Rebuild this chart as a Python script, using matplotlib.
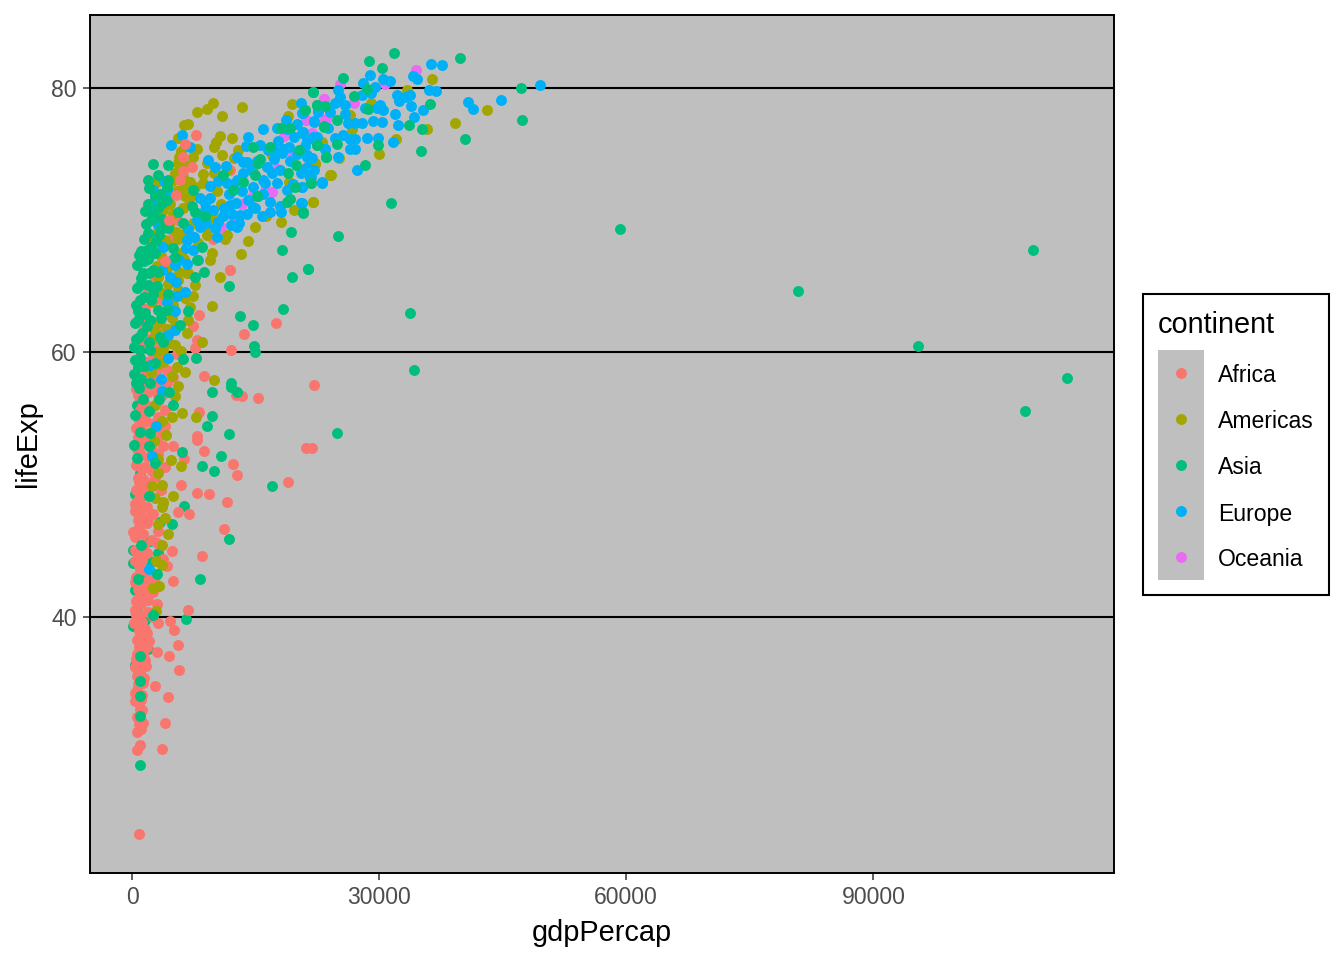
import matplotlib
matplotlib.use('Agg')
import matplotlib.pyplot as plt
from matplotlib.patches import Rectangle

# values: (gdpPercap, lifeExp)
africa = [(11900,66.2),(8090,62.8),(7360,62.0),(17440,62.2),(13560,61.4),(7850,60.9),(7650,60.3),(11980,60.2),
          (850,62.4),(890,60.4),(3600,64.0),(1580,63.3),(8740,58.2),(22100,57.5),(12590,56.8),(13360,56.7),
          (15300,56.55),(8130,55.5),(7850,53.7),(7850,53.4),(4940,52.95),(8740,52.55),(6280,51.95),(21125,52.8),
          (21850,52.8),(12260,51.55),(12710,50.7),(18940,50.2),(5910,49.95),(7850,49.4),(9350,49.3),(11490,48.7),
          (970,57.9),(1580,57.15),(770,56.8),(2790,57.4),(4210,57.65),(5020,58.15),(970,55.65),(3200,56.3),
          (4000,55.65),(970,54.5),(3200,55.15),(4000,54.4),(770,53.6),(3000,53.4),(3800,52.9),(970,52.4),
          (1580,51.35),(4000,51.35),(770,50.5),(2000,50.1),(3480,49.6),(770,48.85),(1780,48.3),(2790,50.6),
          (2390,52.6),(1380,55.15),(3400,59.9),(4200,58.65),(3000,58.65),(970,58.65),(5420,59.9),
          (5540,47.96),(6880,47.8),(11170,46.65),(3200,46.5),(4820,45.0),(8500,44.6),(4210,43.85),(4940,42.7),
          (6760,40.5),(4610,39.65),(3200,39.5),(5100,39.0),(5540,37.9),(2995,37.3),(4450,37.0),(5665,36.0),
          (2790,34.8),(4330,33.9),(4005,32.0),(970,30.3),(570,29.9),(3600,30.0),(850,23.6),(570,31.3),(1050,31.5),
          (1170,32.95),(570,32.45),(365,33.6),(1170,34.1),(570,34.5),(1380,35.0),(570,35.5),(1580,36.7),(365,36.2),
          (570,37.2),(1780,38.75),(570,38.25),(970,39.25),(365,40.5),(2995,41.0),(1980,41.3),(770,41.4),(365,42.65),
          (1580,42.0),(2590,41.9),(970,43.55),(365,44.2),(3800,44.4),(1780,44.8),(365,45.05),(2390,45.8),(1380,46.3),
          (160,46.45),(1780,47.1),(770,47.3),(2590,47.8),(365,48.5),(1380,48.3),(970,40.15),(2590,40.0),(1580,39.1),
          (970,38.5),(1780,37.75),(770,36.5),(1980,42.8),(3000,45.6),(1200,49.8),(1200,51.2),(1000,53.0),(1400,54.0),
          (1700,56.0),(1100,59.2),(5020,68.75),(3200,67.75),(5420,70.0),(3320,69.8),(11900,73.8),(9875,68.6),
          (300,39.5),(520,41.2),(700,42.1),(450,43.0),(900,43.9),(1250,44.3),(640,44.9),(1500,45.4),(380,46.0),
          (820,46.8),(1150,47.6),(1900,47.5),(420,48.0),(1000,48.9),(1600,49.3),(2200,49.1),(520,49.6),(870,50.2),
          (1300,50.4),(2400,51.0),(430,51.5),(760,52.0),(1900,52.1),(3100,52.3),(620,52.7),(1250,53.3),(2100,53.2),
          (450,54.3),(880,54.9),(1700,54.8),(2600,54.6),(3500,54.0),(700,55.2),(1250,55.9),(2400,55.9),(3000,56.9),
          (480,57.2),(1000,57.5),(2000,57.0),(3700,56.8),(650,58.1),(1500,58.2),(2500,58.0),(3400,57.3),(800,59.6),
          (1800,59.3),(2600,59.6),(1200,60.6),(2200,61.0),(3100,60.6),(1400,61.8),(2700,62.3),(3500,62.0),(900,63.6),
          (2000,64.6),(2700,65.3),(3300,66.0),(1500,38.0),(800,38.9),(1250,39.6),(2000,40.4),(450,40.1),(1100,41.0),
          (1600,41.6),(2300,43.3),(1800,43.5),(1200,42.5),(2800,43.0),(900,37.7),(1300,37.2),(480,36.8),(1000,35.8),
          (1500,35.4),(700,34.9),(1100,33.7),(400,34.2),(1300,32.0),(800,31.9),(700,36.0),(1700,36.3),(2100,38.2),(1000,33.0)]
africa_front = [(7770,76.45),(6435,75.8),(6150,74.8),(7285,74.0),(6150,73.7),(5825,73.05),(5340,71.9),(4530,70.0),
                (4005,66.9),(11900,66.2)]
americas = [(9790,78.84),(9065,78.39),(7850,78.2),(13315,78.59),(10927,77.88),(6760,77.28),(6350,77.2),(5585,76.2),
            (10680,76.37),(10200,75.94),(9950,75.5),(12140,76.24),(7850,75.36),(12870,75.34),(10890,74.93),(12380,74.68),
            (7450,74.8),(5750,74.8),(5585,74.35),(9065,74.3),(9955,73.55),(11500,73.8),(5220,73.55),(3000,72.9),
            (7040,72.9),(8660,72.8),(6230,72.5),(10280,72.2),(7450,71.9),(6430,71.8),(10760,71.2),(9950,70.2),
            (7450,69.8),(8900,69.5),(9150,68.9),(5625,68.6),(4000,68.5),(11490,68.9),(11250,68.55),(14080,68.45),
            (8050,68.3),(9670,67.5),(9470,67.0),(13230,67.45),(6350,67.05),(5750,66.1),(6720,66.0),(10680,65.7),
            (2390,68.5),(4200,68.25),(19385,78.8),(18940,77.9),(14730,74.05),(19060,72.9),(19670,70.8),(21935,71.4),
            (16270,70.3),(18090,69.9),(14890,69.5),(24000,73.4),(22220,74.3),(16960,74.9),
            (9670,63.5),(7650,65.1),(7450,64.3),(5630,65.5),(6840,66.0),(6430,64.1),(7040,63.4),(6840,62.45),
            (4820,62.6),(6640,61.45),(4210,61.8),(8460,60.8),(5910,60.1),(5220,60.55),(3200,59.1),(6430,58.5),
            (5420,58.9),(9955,57.9),(4900,58.2),(5550,57.45),(5220,56.7),(6030,55.45),(7770,55.15),(4820,55.15),
            (4130,53.75),(4695,51.85),(5950,51.4),(3200,50.85),(3600,49.95),(5020,49.1),(3720,48.7),
            (3720,48.6),(3600,48.3),(4370,46.3),(3600,45.44),(2910,44.2),(3600,43.9),(3280,42.3),(2590,42.2),(2870,40.45),
            (36420,80.68),(33345,79.85),(29015,78.84),(26465,77.96),(26668,76.87),(35775,76.87),(32010,76.17),(29985,75.0),
            (25130,74.73),(24120,73.45),(21930,71.38),(43060,78.3),(39210,77.38),(23025,75.94),(22215,74.25),(21000,78.3),
            (3000,66.5),(4400,65.2),(3600,63.0),(2800,61.6),(3800,60.2),(2400,63.8),(5000,63.6),(2900,70.4),(4600,71.2),
            (2300,58.5),(3000,60.0),(3800,59.3),(2600,61.0),(4500,60.7),(3300,62.3),(5200,62.0),(3700,64.5),(4600,64.0),
            (3100,65.7),(5600,64.7),(4300,66.4),(3500,67.3),(4800,66.9),(5900,67.5),(3000,69.0),(4500,69.6),(5400,69.1),
            (6400,69.0),(3800,70.8),(5000,70.5),(6200,70.9),(4400,71.8),(5500,72.2),(4800,73.0),(6200,73.3),(3700,72.0),
            (6900,71.2),(8000,70.4),(7600,72.5),(8600,73.5),(6500,74.2),(5900,75.2),(2800,56.0),(3600,54.8),(2700,53.3),
            (3200,51.9),(2400,49.9),(2800,49.0),(4000,47.5),(3200,47.0)]
asia_back = [(6310,48.4),(3400,47.2),(4860,47.0),(11780,45.9),(2190,45.7),(8260,42.85),(1580,43.2),(365,42.0),
             (6560,39.85),(570,40.45),(1580,39.75),(160,39.3),(1980,37.6),(365,36.35),(3200,44.8),(160,45.05),(160,44.05),
             (2190,44.2),(570,56.0),(365,49.3),(970,50.85),(490,53.1),(770,47.85)]
asia_front = [(21935,79.7),(22420,78.7),(21000,78.3),(18050,77.0),(19180,77.0),(23300,77.1),(22420,75.7),(20270,75.3),
              (23500,74.8),(16750,75.5),(14650,75.5),(15340,74.3),(14930,73.4),(19870,74.2),(18980,73.6),(19790,72.5),
              (21690,72.8),(19180,71.6),(18860,71.4),(20720,70.6),(19260,69.1),(18170,67.75),(21330,66.3),(19390,65.7),
              (2510,74.25),(4330,74.2),(1900,73.05),(3110,73.4),(4410,73.05),(3400,72.0),(4210,71.5),(1580,70.7),(2590,70.4),
              (3200,70.9),(5625,70.65),(7240,71.1),(7650,70.6),(6230,69.8),(8860,70.3),(1980,69.0),(3480,69.3),(4410,69.4),
              (1090,67.7),(1780,67.75),(1980,67.1),(2790,67.5),(5020,67.9),(5220,67.25),(8460,68.0),(7850,67.0),(1380,66.0),
              (3200,66.1),(8740,66.1),(7650,65.7),(11090,73.4),(12300,72.3),(15130,71.8),(15540,74.6),(13520,72.9),(7450,72.3),
              (11780,65.05),(18290,63.3),(13110,62.75),(14650,62.07),(14810,60.5),(14930,60.0),(7770,59.6),(6190,59.5),
              (9670,57.0),(12020,57.65),(12020,57.35),(12710,57.0),(4940,56.0),(9710,55.2),(9065,54.45),(11780,53.85),
              (10800,52.15),(8500,51.4),(9950,51.0),(6070,52.5),(16960,49.9),(2060,49.1),(2100,55.6),(365,59.4),(970,59.55),
              (770,58.9),(240,58.4),(2190,57.7),(3320,56.5),(4530,57.0),(2060,52.9),(2790,51.65),(2190,53.9),(970,65.1),
              (1980,65.1),(2590,64.45),(970,64.0),(4410,64.45),(770,63.1),(1580,63.0),(3200,63.2),(2190,62.45),(1170,61.45),
              (5825,62.05),(6840,63.1),(2100,60.8),(3400,61.2),(2190,60.2),(3800,60.8),(770,62.45),(4210,63.2),
              (1050,45.4),(3000,43.2),(770,42.85),(2510,40.1),(970,37.0),(970,35.15),(970,34.0),(970,32.5),(970,28.8),
              (31800,82.65),(28770,82.04),(30350,81.5),(39820,82.27),(25615,80.76),(21930,79.7),(26990,79.42),(28490,79.9),
              (47185,80.0),(47350,77.6),(36180,78.8),(28690,78.4),(22420,78.7),(23430,78.66),(40430,76.14),(35085,75.2),
              (33630,77.2),(35170,76.9),(29865,75.7),(24850,75.8),(24850,77.6),(23310,77.07),(22420,75.7),(23510,74.76),
              (28290,74.2),(21690,72.84),(31445,71.3),(20760,70.57),(25010,68.8),(21325,66.3),
              (109380,67.75),(113520,58.06),(108380,55.56),(95458,60.47),(80895,64.62),(59265,69.34),(34234,58.67),
              (33757,62.99),(24890,53.9),
              (300,60.4),(500,61.0),(800,61.2),(400,62.2),(1300,62.9),(500,63.6),(1500,64.2),(650,64.9),(1100,65.6),
              (2100,66.0),(600,66.6),(1400,66.9),(2500,66.2),(800,67.4),(2300,68.0),(1400,68.6),(2900,68.4),(1700,69.7),
              (3300,68.9),(2300,70.0),(3700,70.1),(2000,71.2),(2800,71.8),(3600,71.3),(2100,72.4),(4300,72.5),(1000,60.2),
              (1500,59.0),(2800,59.2),(1100,58.0),(2300,64.0),(3000,65.0),(3500,62.6),(1800,62.0),(500,57.7),(800,57.3),
              (1300,56.5),(400,55.3),(1000,54.0),(600,52.0),(300,53.0)]
europe = [(4735,75.7),(6030,76.45),(7040,75.5),(9270,74.55),(10080,74.05),(11410,74.1),(13440,74.4),(14000,74.4),
          (14080,76.3),(15945,76.9),(15540,75.7),(17560,77.0),(17690,76.0),(18700,77.6),(20480,78.85),(20640,78.1),
          (20000,77.3),(22100,77.5),(22620,78.3),(24040,78.2),(20800,76.7),(19670,76.3),(19000,75.5),(21200,76.1),
          (22420,76.3),(23430,75.4),(18170,75.05),(17360,75.2),(21200,74.9),(21200,74.05),(22100,73.8),(21690,73.3),
          (23030,72.9),(20600,72.5),(20480,71.3),(17970,71.1),(18050,70.6),(18780,72.3),(17640,72.85),(15945,73.05),
          (16350,74.05),(14730,72.5),(15945,72.0),(14120,71.5),(16750,71.4),(14930,70.9),(16750,70.65),(12700,69.5),
          (13110,70.4),(11900,71.15),(12100,70.5),(11090,70.3),(10080,69.4),(10280,68.75),(8860,71.3),(8255,71.65),
          (9470,71.65),(8860,70.8),(7850,70.0),(6840,69.3),(12710,73.05),(12300,72.5),(13520,73.55),(7450,67.75),
          (8050,67.0),(6640,66.7),(4610,65.7),(2590,72.3),(2790,71.5),
          (6430,64.6),(5420,64.3),(5220,63.15),(5220,61.7),(4410,61.3),(4410,59.55),(2190,59.05),(3480,58.0),
          (3680,57.1),(2910,54.4),(2390,52.2),(4210,63.8),(2100,43.6),
          (36260,81.84),(37600,81.74),(34155,80.9),(34640,80.65),(28895,80.98),(30510,80.68),(31320,80.55),(28085,80.35),
          (29500,80.1),(24970,79.85),(25250,79.35),(27880,79.47),(28975,79.6),(32130,79.47),(33750,79.47),(33140,79.35),
          (32455,79.0),(36100,79.85),(36910,79.8),(40750,78.97),(41360,78.4),(44760,79.1),(49530,80.23),(33870,78.6),
          (31930,78.03),(35290,78.36),(34235,77.83),(32250,77.23),(30110,78.7),(30510,78.3),(29700,78.46),(30310,77.45),
          (29220,77.53),(27880,77.33),(27070,77.38),(26260,77.33),(25860,78.03),(24640,78.9),(25860,78.7),(22620,78.2),
          (28290,78.46),(29900,76.2),(28490,76.24),(31640,75.94),(27070,76.14),(26465,76.14),(25660,76.44),(24645,76.2),
          (26465,75.39),(27070,75.39),(25050,74.8),(23430,75.36),(23835,76.95),(22095,77.45),(20800,78.1),(27275,73.8),
          (23025,72.84),(22015,73.8),(21000,73.9),(21610,73.17),(20600,72.54),(20600,71.3),(20600,76.57),(22015,76.3),
          (21200,74.8),(21800,74.68),(20800,75.2),
          (9000,69.8),(9800,70.8),(10500,69.9),(11200,70.9),(11800,72.0),(12600,71.3),(13300,72.2),(14000,70.5),
          (14700,71.0),(15300,71.8),(12000,69.6),(13000,69.8),(9500,72.6),(10500,73.0),(11500,72.8),(14500,73.8),
          (15200,74.5),(15800,70.3),(16200,72.8),(17000,73.6),(17200,74.6),(18000,73.8),(18400,75.4),(19200,74.5),
          (20000,75.0),(16500,75.3),(20500,73.6),(19500,72.7),(18800,76.9),(21000,75.6),(13800,75.6),(12700,74.8),
          (8200,69.5),(7500,68.7),(6500,67.9),(5700,67.0),(4900,67.0),(3700,66.2),(5200,66.6),(6700,68.5),(5400,65.3),
          (3100,69.6),(3800,68.0),(2600,71.0),(3200,71.6),(3900,73.0),(4200,72.3),(4800,63.2)]
oceania = [(23350,79.2),(21130,77.6),(23430,77.6),(18450,76.4),(19590,74.9),(17560,73.9),(16960,72.1),(16150,72.2),
           (13315,71.2),(12220,70.3),(10760,69.5),(14730,71.8),(21610,76.45),(34480,81.36),(30715,80.28),(25250,80.28),
           (23310,79.2),(21125,77.58),(23550,77.63),(26990,78.84),(21810,76.57)]

continents = ['Africa', 'Americas', 'Asia', 'Europe', 'Oceania']
colors = ['#F8766D', '#A3A500', '#00BF7D', '#00B0F6', '#E76BF3']
xticks = [0, 30000, 60000, 90000]
yticks = [40, 60, 80]

plt.rcParams['font.family'] = ['Liberation Sans', 'DejaVu Sans']

fig = plt.figure(figsize=(13.44, 9.6), dpi=100)
ax = fig.add_axes([90/1344, 1-873/960, (1114-90)/1344, (873-15)/960])
ax.set_facecolor('#BFBFBF')

# drawn in layers so the overlaps come out like the original
layers = [(asia_back, colors[2]), (oceania, colors[4]), (africa, colors[0]), (americas, colors[1]),
          (europe, colors[3]), (asia_front, colors[2]), (africa_front, colors[0])]
for pts, col in layers:
    ax.scatter([p[0] for p in pts], [p[1] for p in pts], s=62, c=col, linewidths=0, zorder=3)

ax.set_xlim(-5100, 119215)
ax.set_ylim(20.62, 85.52)
ax.set_xticks(xticks)
ax.set_yticks(yticks)
ax.grid(axis='y', color='black', lw=1.5, zorder=1)
ax.set_axisbelow(True)
ax.tick_params(labelcolor='#4D4D4D', labelsize=16.6, length=5, width=1.1, color='#333333', pad=4.5)
for s in ax.spines.values():
    s.set_color('black')
    s.set_linewidth(1.4)
ax.set_xlabel('gdpPercap', fontsize=20.8, labelpad=7)
ax.set_ylabel('lifeExp', fontsize=20.8, labelpad=6.5)

# legend, in pixel units of the figure
leg = fig.add_axes([0, 0, 1, 1], facecolor='none')
leg.set_xlim(0, 1344)
leg.set_ylim(960, 0)
leg.axis('off')
leg.add_patch(Rectangle((1143, 293.5), 186, 301, fc='white', ec='black', lw=1.5))
leg.add_patch(Rectangle((1158, 350), 46, 230, fc='#BFBFBF', ec='none'))
leg.text(1158, 325, 'continent', fontsize=20.8, va='center', ha='left')
for i, name in enumerate(continents):
    y = 373 + i*46
    leg.scatter([1181], [y], s=62, c=colors[i], linewidths=0)
    leg.text(1218, y+3, name, fontsize=16.6, va='center', ha='left')

fig.savefig('out.png', dpi=100)
